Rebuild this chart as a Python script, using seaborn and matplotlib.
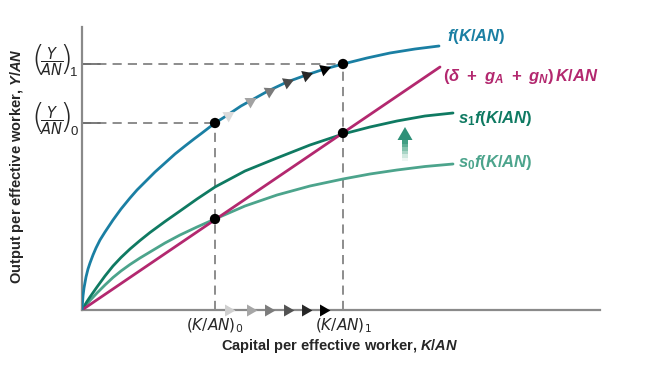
import matplotlib
matplotlib.use("Agg")
import numpy as np
import pandas as pd
import matplotlib.pyplot as plt
import seaborn as sns

# curves (x = K/AN, y = Y/AN, arbitrary units)
f_x = [0, 0.01, 0.02, 0.04, 0.06, 0.08, 0.11, 0.14, 0.18, 0.23, 0.31, 0.39, 0.48, 0.55, 0.63, 0.73,
       0.83, 0.93, 1.03, 1.12, 1.20, 1.33, 1.41, 1.50, 1.59, 1.68, 1.86, 2.05, 2.23, 2.41, 2.61,
       2.85, 3.08, 3.33, 3.57]
f_y = [0, 0.14, 0.22, 0.33, 0.41, 0.47, 0.55, 0.62, 0.70, 0.78, 0.90, 1.01, 1.12, 1.20, 1.28, 1.38,
       1.47, 1.56, 1.64, 1.71, 1.77, 1.87, 1.92, 1.98, 2.04, 2.09, 2.19, 2.28, 2.345, 2.405, 2.46,
       2.52, 2.57, 2.61, 2.64]

s_x = [0, 0.02, 0.05, 0.08, 0.15, 0.23, 0.31, 0.39, 0.48, 0.58, 0.68, 0.83, 0.98, 1.15, 1.33,
       1.63, 1.95, 2.28, 2.61, 2.88, 3.15, 3.43, 3.71]
s1_y = [0, 0.035, 0.085, 0.13, 0.23, 0.34, 0.44, 0.525, 0.61, 0.695, 0.775, 0.885, 0.99, 1.11, 1.23,
        1.39, 1.52, 1.65, 1.76, 1.83, 1.89, 1.94, 1.97]
s0_y = [0, 0.025, 0.06, 0.095, 0.17, 0.25, 0.325, 0.39, 0.455, 0.52, 0.58, 0.67, 0.75, 0.83, 0.91,
        1.04, 1.15, 1.24, 1.31, 1.36, 1.40, 1.435, 1.46]

dep_x = [0, 3.58]
dep_y = [0, 2.43]

# steady states
k_ss = [1.33, 2.61]
y_ss = [1.87, 2.46]
inv_ss = [0.91, 1.77]

# small arrows showing the transition
axis_arrow_x = [1.46, 1.68, 1.86, 2.05, 2.23, 2.41]
curve_arrow_x = [1.46, 1.68, 1.87, 2.05, 2.24, 2.42]
curve_arrow_y = [1.955, 2.09, 2.19, 2.28, 2.345, 2.41]

k_labels = [r"$(K/AN)_0$", r"$(K/AN)_1$"]
y_subs = ["0", "1"]

blue = "#1a7fa3"
dkgreen = "#0f7a62"
ltgreen = "#4ca48c"
magenta = "#b3286f"

sns.set_style("white")
plt.rcParams["font.family"] = ["Liberation Sans", "DejaVu Sans"]
plt.rcParams["mathtext.fontset"] = "custom"
plt.rcParams["mathtext.rm"] = "Liberation Sans:bold"
plt.rcParams["mathtext.it"] = "Liberation Sans:bold:italic"
plt.rcParams["mathtext.bf"] = "Liberation Sans:bold"

fig = plt.figure(figsize=(6.5, 3.75), dpi=100)
ax = fig.add_axes([82 / 650, 65 / 375, 518 / 650, 283 / 375])
ax.set_xlim(0, 5.18)
ax.set_ylim(0, 2.83)

# dashed guide lines
for k, y in zip(k_ss, y_ss):
    ax.plot([0, k], [y, y], color="#6e6e6e", lw=1.1, ls=(0, (6, 4)), zorder=1)
    ax.plot([0, 0.18], [y, y], color="#6e6e6e", lw=1.3, zorder=1)
    ax.plot([k, k], [0, y], color="#6e6e6e", lw=1.1, ls=(0, (6, 4)), zorder=1)

sns.lineplot(x=s_x, y=s0_y, ax=ax, color=ltgreen, lw=2, zorder=2)
sns.lineplot(x=s_x, y=s1_y, ax=ax, color=dkgreen, lw=2, zorder=2)
sns.lineplot(x=dep_x, y=dep_y, ax=ax, color=magenta, lw=2, zorder=3)
sns.lineplot(x=f_x, y=f_y, ax=ax, color=blue, lw=2, zorder=3)

dots = pd.DataFrame({"k": k_ss + k_ss, "y": y_ss + inv_ss})
sns.scatterplot(data=dots, x="k", y="y", ax=ax, color="black", s=55, zorder=6, edgecolor="none")

grays_axis = ["#cfcfcf", "#a6a6a6", "#7c7c7c", "#525252", "#272727", "#000000"]
grays_curve = ["#dadada", "#a2a2a2", "#7a7a7a", "#4a4a4a", "#262626", "#000000"]
for x, c in zip(axis_arrow_x, grays_axis):
    ax.plot(x, 0, marker=(3, 0, -90), ms=10, color=c, mec="none", clip_on=False, zorder=7)

# rotate the curve arrows along the curve
pts = ax.transData.transform(np.column_stack([curve_arrow_x, curve_arrow_y]))
ang = np.degrees(np.arctan2(np.gradient(pts[:, 1]), np.gradient(pts[:, 0])))
for x, y, a, c in zip(curve_arrow_x, curve_arrow_y, ang, grays_curve):
    ax.plot(x, y, marker=(3, 0, a - 90), ms=10, color=c, mec="none", zorder=7)

# gradient arrow showing the rise in saving
shaft = ["#eef6f3", "#d0e8df", "#aad5c6", "#84c2ad", "#5fae95", "#429e83"]
for i, c in enumerate(shaft):
    y0 = 1.49 + i * 0.035
    ax.fill([3.20, 3.26, 3.26, 3.20], [y0, y0, y0 + 0.037, y0 + 0.037], color=c, lw=0, zorder=4)
ax.fill([3.155, 3.305, 3.23], [1.70, 1.70, 1.83], color="#2f9078", lw=0, zorder=4)

# curve labels
ax.text(3.65, 2.73, r"$f(K/AN)$", color=blue, fontsize=12, va="center")
ax.text(3.61, 2.33, r"$(\delta\ +\ g_A\ +\ g_N)\,K/AN$", color=magenta, fontsize=12, va="center")
ax.text(3.76, 1.91, r"$s_1f(K/AN)$", color=dkgreen, fontsize=12, va="center")
ax.text(3.76, 1.47, r"$s_0f(K/AN)$", color=ltgreen, fontsize=12, va="center")

for k, lab in zip(k_ss, k_labels):
    ax.text(k, -0.07, lab, fontsize=11, ha="center", va="top", clip_on=False,
            math_fontfamily="dejavusans")

# (Y/AN) labels: fraction between big parentheses
for y, sub in zip(y_ss, y_subs):
    ax.text(-0.30, y + 0.02, r"$\dfrac{Y}{AN}$", fontsize=10.5, ha="center", va="center",
            clip_on=False, math_fontfamily="dejavusans")
    ax.text(-0.44, y + 0.04, "(", fontsize=24, ha="center", va="center", clip_on=False,
            family="DejaVu Sans", fontweight="light")
    ax.text(-0.16, y + 0.04, ")", fontsize=24, ha="center", va="center", clip_on=False,
            family="DejaVu Sans", fontweight="light")
    ax.text(-0.08, y - 0.09, sub, fontsize=9.5, ha="center", va="center", clip_on=False)

ax.text(2.58, -0.36, r"Capital per effective worker, $K/AN$", fontsize=10.5,
        fontweight="bold", ha="center", va="center")
ax.text(-0.65, 1.44, r"Output per effective worker, $Y/AN$", fontsize=10.5,
        fontweight="bold", ha="center", va="center", rotation=90)

ax.set_xticks([])
ax.set_yticks([])
ax.set_xlabel("")
ax.set_ylabel("")
for side in ["top", "right"]:
    ax.spines[side].set_visible(False)
for side in ["left", "bottom"]:
    ax.spines[side].set_color("#8a8a8a")
    ax.spines[side].set_linewidth(1.6)

fig.savefig("out.png", dpi=100)
